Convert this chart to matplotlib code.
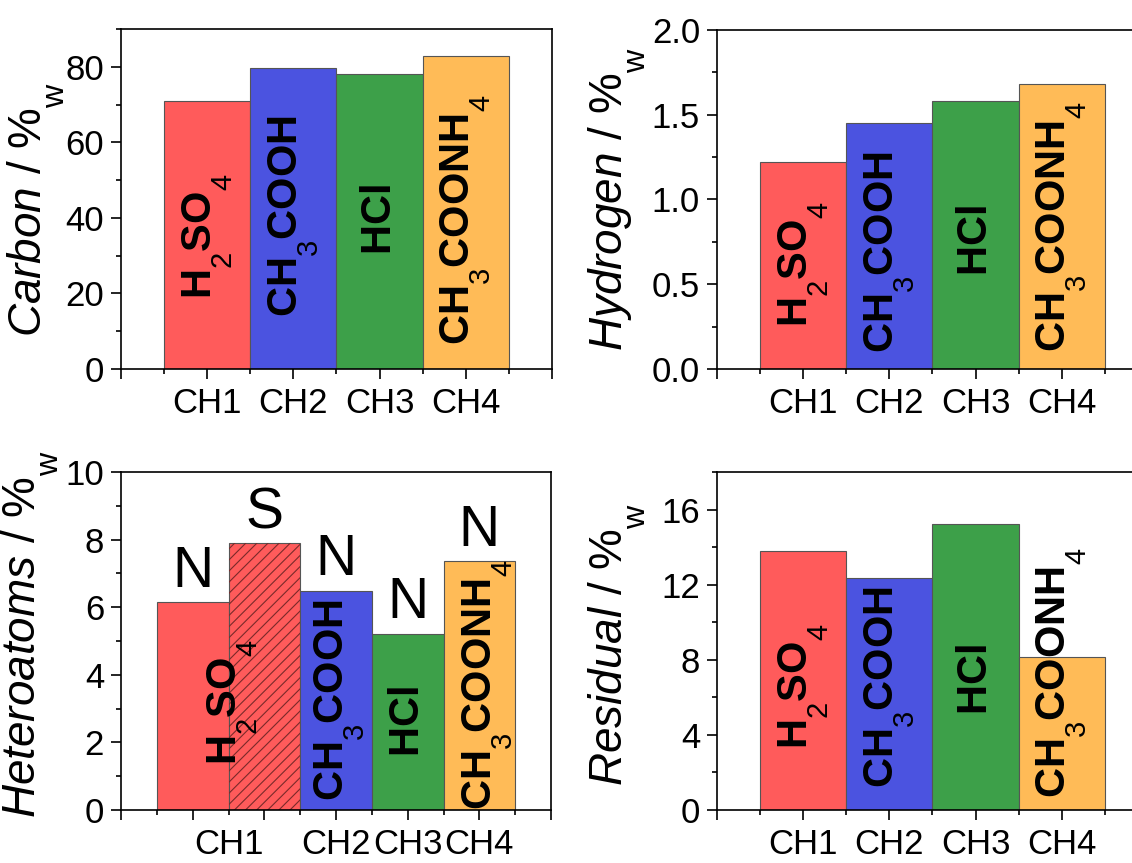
import numpy as np
import matplotlib
matplotlib.use('Agg')
import matplotlib.pyplot as plt
from matplotlib.ticker import MultipleLocator
from matplotlib import _mathtext

plt.rcParams['font.family'] = ['Liberation Sans', 'DejaVu Sans']
plt.rcParams['mathtext.fontset'] = 'custom'
plt.rcParams['mathtext.rm'] = 'Liberation Sans'
plt.rcParams['mathtext.it'] = 'Liberation Sans:italic'
plt.rcParams['mathtext.bf'] = 'Liberation Sans:bold'
plt.rcParams['hatch.linewidth'] = 0.8
# push subscripts lower, like the original (Origin style)
_mathtext.FontConstantsBase.sub1 = 0.95

# data
samples = ['CH1', 'CH2', 'CH3', 'CH4']
acids = [r'$\mathbf{H}_\mathrm{2}\mathbf{SO}_\mathrm{4}$',
         r'$\mathbf{CH}_\mathrm{3}\mathbf{COOH}$',
         r'$\mathbf{HCl}$',
         r'$\mathbf{CH}_\mathrm{3}\mathbf{COONH}_\mathrm{4}$']
colors = ['#FF5B5B', '#4B53E0', '#3DA049', '#FFBB57']

carbon = [71.0, 79.8, 78.0, 82.8]
hydrogen = [1.22, 1.45, 1.58, 1.68]
residual = [13.8, 12.33, 15.25, 8.16]

# heteroatoms: N for every sample, plus S for CH1
hetero_labels = ['N', 'S', 'N', 'N', 'N']
hetero = [6.14, 7.89, 6.49, 5.22, 7.37]
hetero_colors = ['#FF5B5B', '#FF5B5B', '#4B53E0', '#3DA049', '#FFBB57']

# vertical centre of the acid names (axes fraction)
carbon_txt = [0.39, 0.45, 0.44, 0.44]
hydrogen_txt = [0.31, 0.345, 0.38, 0.42]
residual_txt = [0.367, 0.364, 0.385, 0.405]
hetero_txt_x = [1.55, 3.05, 4.0, 5.12]
hetero_txt = [0.32, 0.325, 0.26, 0.37]

TICK_FS = 25
LABEL_FS = 33
BAR_FS = 30
MAJ_LEN = 7.2
MIN_LEN = 3.6
X_PAD = 6

fig = plt.figure(figsize=(11.32, 8.63), dpi=100)


def style_axis(ax, ymax, major, minor):
    ax.set_ylim(0, ymax)
    ax.yaxis.set_major_locator(MultipleLocator(major))
    ax.yaxis.set_minor_locator(MultipleLocator(minor))
    ax.tick_params(which='both', direction='out', width=1.2, labelsize=TICK_FS,
                   top=False, right=False)
    ax.tick_params(which='major', length=MAJ_LEN)
    ax.tick_params(axis='y', which='major', pad=5)
    ax.tick_params(axis='x', which='major', pad=X_PAD)
    ax.tick_params(which='minor', length=MIN_LEN)
    for s in ax.spines.values():
        s.set_linewidth(1.2)


def ylab(ax, name, x, y):
    ax.set_ylabel(r'$\mathit{' + name + r'}$ / %$_\mathrm{w}$', fontsize=LABEL_FS)
    ax.yaxis.label.set_verticalalignment('center')
    ax.yaxis.set_label_coords(x, y)


def simple_panel(rect, values, txt_y, ymax, major, minor, name, lx, ly, fmt):
    ax = fig.add_axes(rect)
    x = np.arange(1, len(values) + 1)
    ax.bar(x, values, width=1.0, color=colors, edgecolor='#555555', linewidth=0.8)
    for xi, t, ty in zip(x, acids, txt_y):
        ax.text(xi, ty, t, rotation=90, ha='center', va='center',
                fontsize=BAR_FS, transform=ax.get_xaxis_transform())
    ax.set_xlim(0, 5)
    ax.set_xticks(np.arange(0, 6), [''] + samples + [''])
    ax.xaxis.set_minor_locator(MultipleLocator(0.5))
    style_axis(ax, ymax, major, minor)
    ax.yaxis.set_major_formatter(fmt)
    ylab(ax, name, lx, ly)
    return ax


simple_panel([0.1069, 0.5724, 0.3807, 0.394], carbon, carbon_txt, 90, 20, 10,
             'Carbon', -0.197, 0.47, '{x:.0f}')
simple_panel([0.6334, 0.5724, 0.3807, 0.393], hydrogen, hydrogen_txt, 2.0, 0.5, 0.25,
             'Hydrogen', -0.232, 0.5, '{x:.1f}')
simple_panel([0.6334, 0.0614, 0.3807, 0.3917], residual, residual_txt, 18, 4, 2,
             'Residual', -0.232, 0.49, '{x:.0f}')

# heteroatoms panel
ax = fig.add_axes([0.1069, 0.0614, 0.3799, 0.3917])
xh = np.arange(1, len(hetero) + 1)
ax.bar(xh, hetero, width=1.0, color=hetero_colors, edgecolor='#555555', linewidth=0.8)
# sulfur bar hatched
ax.bar(xh[1], hetero[1], width=1.0, color='none', edgecolor='#7a2a2a',
       linewidth=0, hatch='///')
for xi, v, lab in zip(xh, hetero, hetero_labels):
    ax.text(xi, v + 0.45, lab, ha='center', va='baseline', fontsize=41)
for tx, t, ty in zip(hetero_txt_x, acids, hetero_txt):
    ax.text(tx, ty, t, rotation=90, ha='center', va='center',
            fontsize=BAR_FS, transform=ax.get_xaxis_transform())
ax.set_xlim(0, 6)
ax.set_xticks(np.arange(0, 7), ['', '', '', samples[1], samples[2], samples[3], ''])
minor_pos = np.arange(0.5, 6, 1.0)
ax.set_xticks(minor_pos, ['', samples[0], '', '', '', ''], minor=True)
style_axis(ax, 10, 2, 1)
ax.tick_params(axis='x', which='minor', labelsize=TICK_FS,
               pad=X_PAD + MAJ_LEN - MIN_LEN)
ylab(ax, 'Heteroatoms', -0.211, 0.52)

fig.savefig('out.png', dpi=100)
